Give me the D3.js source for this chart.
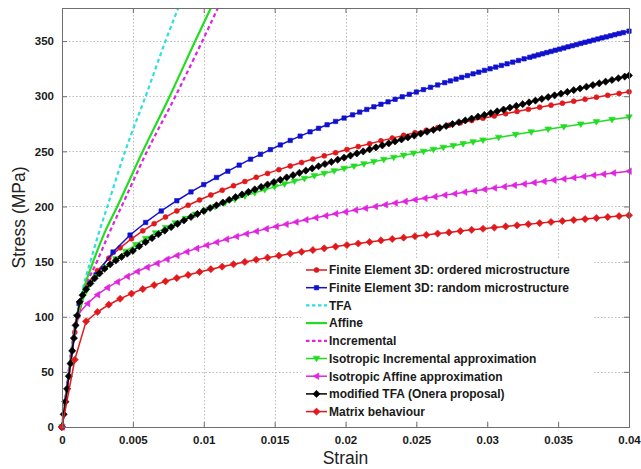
<!DOCTYPE html>
<html>
<head>
<meta charset="utf-8">
<script src="https://cdn.jsdelivr.net/npm/d3@7"></script>
<style>
  body { margin: 0; background: #fff; }
  svg { display: block; }
</style>
</head>
<body>
<svg id="chart" width="641" height="469"></svg>
<script>
// ---- axis ticks ----
const xTickValues = [0, 0.005, 0.01, 0.015, 0.02, 0.025, 0.03, 0.035, 0.04];
const xTickLabels = ["0", "0.005", "0.01", "0.015", "0.02", "0.025", "0.03", "0.035", "0.04"];
const yTickValues = [0, 50, 100, 150, 200, 250, 300, 350];
const yTickLabels = ["0", "50", "100", "150", "200", "250", "300", "350"];

// ---- legend labels ----
const seriesNames = [
  "Finite Element 3D: ordered microstructure",
  "Finite Element 3D: random microstructure",
  "TFA",
  "Affine",
  "Incremental",
  "Isotropic Incremental approximation",
  "Isotropic Affine approximation",
  "modified TFA (Onera proposal)",
  "Matrix behaviour"
];

// ---- strain grid shared by the ordered FE model and the matrix curve ----
const strainStep8 = [0, 0.0009, 0.0017, 0.0025, 0.0033, 0.0041, 0.0049, 0.0057, 0.0065, 0.0073,
  0.0081, 0.0089, 0.0097, 0.0105, 0.0113, 0.0121, 0.0129, 0.0137, 0.0145, 0.0153, 0.0161, 0.0169,
  0.0177, 0.0185, 0.0193, 0.0201, 0.0209, 0.0217, 0.0225, 0.0233, 0.0241, 0.0249, 0.0257, 0.0265,
  0.0273, 0.0281, 0.0289, 0.0297, 0.0305, 0.0313, 0.0321, 0.0329, 0.0337, 0.0345, 0.0353, 0.0361,
  0.0369, 0.0377, 0.0385, 0.0393, 0.04];

// Finite Element 3D: ordered microstructure (MPa)
const stressFeOrdered = [0, 86, 127.6, 141.8, 153.1, 162.5, 170.7, 177.9, 184.4, 190.4, 196.0,
  201.1, 205.9, 210.4, 214.7, 218.8, 222.7, 226.4, 230.0, 233.4, 236.7, 239.9, 243.0, 245.9, 248.8,
  251.6, 254.3, 256.9, 259.5, 262.0, 264.5, 266.8, 269.2, 271.5, 273.7, 275.9, 278.0, 280.1, 282.1,
  284.2, 286.2, 288.1, 290.0, 291.9, 293.7, 295.5, 297.3, 299.1, 300.8, 302.5, 304];

// Matrix behaviour (MPa)
const stressMatrix = [0, 61, 95.8, 104.3, 110.9, 116.3, 121.0, 125.1, 128.7, 132.1, 135.1, 137.9,
  140.6, 143.1, 145.4, 147.6, 149.7, 151.7, 153.6, 155.4, 157.2, 158.9, 160.5, 162.0, 163.6, 165.0,
  166.4, 167.8, 169.2, 170.5, 171.7, 173.0, 174.2, 175.4, 176.5, 177.7, 178.8, 179.8, 180.9, 181.9,
  182.9, 183.9, 184.9, 185.9, 186.8, 187.7, 188.6, 189.5, 190.4, 191.3, 192.0];

// Finite Element 3D: random microstructure
const strainFeRandom = [0, 0.0012, 0.0024, 0.0036, 0.0048, 0.0059, 0.0070, 0.0081, 0.0091, 0.0100,
  0.0109, 0.0117, 0.0125, 0.0133, 0.0140, 0.0147, 0.0154, 0.0161, 0.0168, 0.0175, 0.0181, 0.0187,
  0.0193, 0.0199, 0.0205, 0.0210, 0.0215, 0.0220, 0.0225, 0.0230, 0.0235, 0.0240, 0.0245, 0.0250,
  0.0255, 0.0260, 0.0265, 0.0270, 0.0274, 0.0278, 0.0282, 0.0286, 0.0290, 0.0294, 0.0298, 0.0302,
  0.0306, 0.0310, 0.0314, 0.0318, 0.0322, 0.0326, 0.0330, 0.0333, 0.0336, 0.0339, 0.0342, 0.0345,
  0.0348, 0.0351, 0.0354, 0.0357, 0.0360, 0.0363, 0.0366, 0.0369, 0.0372, 0.0375, 0.0378, 0.0381,
  0.0384, 0.0387, 0.0390, 0.0393, 0.0396, 0.0400];
const stressFeRandom = [0, 112, 138, 158.7, 174.1, 185.5, 195.9, 205.2, 213.2, 219.9, 226.3, 232.0,
  237.5, 242.9, 247.3, 251.6, 255.8, 259.9, 263.8, 267.7, 270.9, 274.1, 277.1, 280.2, 283.1, 285.6,
  288.0, 290.4, 292.7, 294.9, 297.2, 299.5, 301.7, 303.8, 306.0, 308.1, 310.2, 312.3, 313.9, 315.5,
  317.1, 318.7, 320.3, 321.8, 323.4, 324.9, 326.4, 327.9, 329.4, 330.9, 332.4, 333.9, 335.3, 336.4,
  337.5, 338.5, 339.6, 340.6, 341.7, 342.7, 343.7, 344.8, 345.8, 346.8, 347.9, 348.9, 349.9, 350.9,
  351.9, 352.9, 353.8, 354.8, 355.8, 356.8, 357.7, 359.0];

// TFA
const strainTfa = [0, 0.00105, 0.0015, 0.002, 0.0026, 0.0032, 0.00445, 0.0059, 0.0073, 0.0082, 0.0092];
const stressTfa = [0, 100, 127, 150, 176, 200, 250, 300, 350, 380, 412];

// Affine
const strainAffine = [0, 0.00105, 0.0016, 0.0022, 0.003, 0.0039, 0.0057, 0.0076, 0.0094, 0.0105, 0.0115];
const stressAffine = [0, 100, 128, 150, 176, 200, 250, 300, 350, 380, 407];

// Incremental
const strainIncremental = [0, 0.00105, 0.0017, 0.0025, 0.0033, 0.0042, 0.006, 0.008, 0.0099, 0.011, 0.012];
const stressIncremental = [0, 100, 128, 151, 175, 200, 250, 300, 350, 380, 407];

// Isotropic Incremental approximation
const strainIsoIncremental = [0, 0.00105, 0.0017, 0.0024, 0.0031, 0.0038, 0.0045, 0.0052, 0.0059,
  0.0066, 0.0073, 0.0080, 0.0087, 0.0094, 0.0101, 0.0108, 0.0115, 0.0122, 0.0129, 0.0136, 0.0143,
  0.0150, 0.0157, 0.0164, 0.0171, 0.0178, 0.0185, 0.0192, 0.0199, 0.0206, 0.0213, 0.0220, 0.0227,
  0.0234, 0.0241, 0.0248, 0.0255, 0.0262, 0.0269, 0.0276, 0.0283, 0.0290, 0.0297, 0.0308, 0.0320,
  0.0331, 0.0343, 0.0354, 0.0366, 0.0377, 0.0388, 0.0400];
const stressIsoIncremental = [0, 100, 123, 136, 144.5, 152.4, 159.2, 165.3, 170.8, 175.9, 180.6,
  184.9, 189.0, 192.8, 196.4, 199.9, 203.2, 206.4, 209.4, 212.3, 215.1, 217.8, 220.3, 222.9, 225.3,
  227.7, 229.9, 232.2, 234.4, 236.5, 238.5, 240.6, 242.5, 244.4, 246.3, 248.2, 249.9, 251.7, 253.5,
  255.1, 256.8, 258.5, 260.1, 262.5, 265.2, 267.5, 270.0, 272.2, 274.6, 276.7, 278.8, 281];

// Isotropic Affine approximation
const strainIsoAffine = [0, 0.00105, 0.0018, 0.0025, 0.0032, 0.0039, 0.0046, 0.0053, 0.0060, 0.0067,
  0.0074, 0.0081, 0.0088, 0.0095, 0.0102, 0.0109, 0.0116, 0.0123, 0.0130, 0.0137, 0.0144, 0.0151,
  0.0158, 0.0165, 0.0172, 0.0179, 0.0186, 0.0193, 0.0200, 0.0207, 0.0214, 0.0221, 0.0228, 0.0235,
  0.0242, 0.0249, 0.0256, 0.0263, 0.0270, 0.0277, 0.0284, 0.0291, 0.0298, 0.0305, 0.0312, 0.0319,
  0.0326, 0.0333, 0.0340, 0.0347, 0.0354, 0.0361, 0.0368, 0.0375, 0.0382, 0.0389, 0.0400];
const stressIsoAffine = [0, 101, 112, 120, 126.4, 131.6, 136.6, 141, 144.9, 148.4, 152.2, 155.6,
  158.9, 162.0, 164.9, 167.6, 170.3, 172.8, 175.2, 177.5, 179.7, 181.9, 183.9, 185.9, 187.9, 189.8,
  191.6, 193.4, 195.1, 196.8, 198.4, 200.0, 201.6, 203.1, 204.6, 206.1, 207.5, 208.9, 210.3, 211.6,
  213.0, 214.3, 215.5, 216.8, 218.0, 219.2, 220.4, 221.6, 222.8, 223.9, 225.0, 226.1, 227.2, 228.3,
  229.3, 230.4, 232];

// modified TFA (Onera proposal)
const strainModTfa = [0, 0.00012, 0.00024, 0.00036, 0.00048, 0.0006, 0.00072, 0.00084, 0.00096,
  0.00108, 0.00125, 0.00145, 0.0017, 0.002, 0.0023, 0.00265, 0.003, 0.0034, 0.0038, 0.0042, 0.0046,
  0.005, 0.00545, 0.0059, 0.00635, 0.0068, 0.00725, 0.0077, 0.00815, 0.0086,
  0.0091, 0.00955, 0.0100, 0.01045, 0.0109, 0.01135, 0.0118, 0.01225, 0.0127, 0.01315, 0.0136,
  0.01405, 0.0145, 0.01495, 0.0154, 0.01585, 0.0163, 0.01675, 0.0172, 0.01765, 0.0181, 0.01855,
  0.0190, 0.01945, 0.0199, 0.02035, 0.0208, 0.02125, 0.0217, 0.02215, 0.0226, 0.02305, 0.0235,
  0.02395, 0.0244, 0.02485, 0.0253, 0.02575, 0.0262, 0.02665, 0.0271, 0.02755, 0.0280, 0.02845,
  0.0289, 0.02935, 0.0298, 0.03025, 0.0307, 0.03115, 0.0316, 0.03205, 0.0325, 0.03295, 0.0334,
  0.03385, 0.0343, 0.03475, 0.0352, 0.03565, 0.0361, 0.03655, 0.0370, 0.03745, 0.0379, 0.03835,
  0.0388, 0.03925, 0.0397, 0.0400];
const stressModTfa = [0, 11.5, 23, 34.6, 46.1, 57.6, 69.1, 80.6, 92.2, 101, 113.5, 119.6, 124.9,
  130.2, 134.8, 139.4, 143.5, 147.5, 151.1, 154.3, 157.2, 159.8, 163.9, 167.7, 171.3, 174.8, 178.1,
  181.3, 184.3, 187.3,
  190.5, 193.2, 195.9, 198.6, 201.1, 203.6, 206.1, 208.5, 210.9, 213.2, 215.5, 217.7, 219.9, 222.1,
  224.2, 226.3, 228.4, 230.5, 232.5, 234.5, 236.5, 238.5, 240.4, 242.4, 244.3, 246.2, 248.1, 249.9,
  251.8, 253.6, 255.4, 257.2, 259.0, 260.8, 262.6, 264.3, 266.1, 267.8, 269.5, 271.3, 273.0, 274.7,
  276.4, 278.0, 279.7, 281.4, 283.0, 284.7, 286.3, 287.9, 289.6, 291.2, 292.8, 294.4, 296.0, 297.6,
  299.2, 300.8, 302.3, 303.9, 305.5, 307.0, 308.6, 310.1, 311.7, 313.2, 314.7, 316.3, 317.8, 318.8];

// ---- layout ----
const svg = d3.select("#chart");
const W = 641, H = 469;
const margin = { left: 62, right: 12, top: 8, bottom: 42 };
const plotW = W - margin.left - margin.right;
const plotH = H - margin.top - margin.bottom;

const x = d3.scaleLinear().domain([0, 0.04]).range([margin.left, margin.left + plotW]);
const y = d3.scaleLinear().domain([0, 380]).range([margin.top + plotH, margin.top]);

const FONT = "'Liberation Sans', Arial, Helvetica, sans-serif";

// marker shapes (path strings centred on 0,0)
const markerPaths = {
  circle: r => d3.symbol(d3.symbolCircle, Math.PI * r * r)(),
  square: r => `M${-r},${-r}H${r}V${r}H${-r}Z`,
  diamond: r => `M0,${-r}L${r},0L0,${r}L${-r},0Z`,
  triDown: r => `M${-r},${-r * 0.7}L${r},${-r * 0.7}L0,${r}Z`,
  triLeft: r => `M${-r},0L${r * 0.7},${-r}L${r * 0.7},${r}Z`
};

const RED = "#e2191c", BLUE = "#1010d0", CYAN = "#30dede", GREEN = "#22dd22",
      MAGENTA = "#e024e0", BLACK = "#000000";

const series = [
  { name: seriesNames[0], xs: strainStep8, ys: stressFeOrdered, color: RED, width: 1.5, marker: "circle", r: 2.5 },
  { name: seriesNames[1], xs: strainFeRandom, ys: stressFeRandom, color: BLUE, width: 1.5, marker: "square", r: 2.2 },
  { name: seriesNames[2], xs: strainTfa, ys: stressTfa, color: CYAN, width: 2.2, dash: "4,3", smooth: true },
  { name: seriesNames[3], xs: strainAffine, ys: stressAffine, color: GREEN, width: 2.2, smooth: true },
  { name: seriesNames[4], xs: strainIncremental, ys: stressIncremental, color: MAGENTA, width: 2.2, dash: "4,3", smooth: true },
  { name: seriesNames[5], xs: strainIsoIncremental, ys: stressIsoIncremental, color: GREEN, width: 1.5, marker: "triDown", r: 3.3 },
  { name: seriesNames[6], xs: strainIsoAffine, ys: stressIsoAffine, color: MAGENTA, width: 1.5, marker: "triLeft", r: 3.3 },
  { name: seriesNames[7], xs: strainModTfa, ys: stressModTfa, color: BLACK, width: 1.5, marker: "diamond", r: 3.6 },
  { name: seriesNames[8], xs: strainStep8, ys: stressMatrix, color: RED, width: 1.5, marker: "diamond", r: 3.6 }
];

// ---- grid ----
const grid = svg.append("g").attr("stroke", "#bdbdbd").attr("stroke-width", 1)
  .attr("stroke-dasharray", "1.5,2");
grid.selectAll("line.gx").data(xTickValues.slice(1, -1)).join("line")
  .attr("x1", d => Math.round(x(d)) + 0.5).attr("x2", d => Math.round(x(d)) + 0.5)
  .attr("y1", y(380)).attr("y2", y(0));
grid.selectAll("line.gy").data(yTickValues.slice(1)).join("line")
  .attr("x1", x(0)).attr("x2", x(0.04))
  .attr("y1", d => Math.round(y(d)) + 0.5).attr("y2", d => Math.round(y(d)) + 0.5);

// ---- curves ----
svg.append("defs").append("clipPath").attr("id", "plotClip")
  .append("rect").attr("x", x(0) - 4).attr("y", y(380))
  .attr("width", x(0.04) - x(0) + 8).attr("height", y(0) - y(380) + 4);

const curves = svg.append("g").attr("clip-path", "url(#plotClip)");
series.forEach(s => {
  const pts = s.xs.map((v, i) => [v, s.ys[i]]);
  const line = d3.line().x(d => x(d[0])).y(d => y(d[1]))
    .curve(s.smooth ? d3.curveMonotoneX : d3.curveLinear);
  curves.append("path").datum(pts)
    .attr("d", line).attr("fill", "none")
    .attr("stroke", s.color).attr("stroke-width", s.width)
    .attr("stroke-dasharray", s.dash || null)
    .attr("stroke-linejoin", "round");
  if (s.marker) {
    const shape = markerPaths[s.marker](s.r);
    curves.append("g").selectAll("path").data(pts).join("path")
      .attr("d", shape)
      .attr("transform", d => `translate(${x(d[0])},${y(d[1])})`)
      .attr("fill", s.color).attr("stroke", s.color).attr("stroke-width", 0.6);
  }
});

// ---- axes box and inward ticks ----
const axisColor = "#6e6e6e";
const xAxis = d3.axisBottom(x).tickValues(xTickValues)
  .tickFormat((d, i) => xTickLabels[i]).tickSize(-5).tickPadding(9);
const gx = svg.append("g").attr("transform", `translate(0,${y(0)})`).call(xAxis);
const yAxis = d3.axisLeft(y).tickValues(yTickValues)
  .tickFormat((d, i) => yTickLabels[i]).tickSize(-5).tickPadding(8);
const gy = svg.append("g").attr("transform", `translate(${x(0)},0)`).call(yAxis);
const gxTop = svg.append("g").attr("transform", `translate(0,${y(380)})`)
  .call(d3.axisTop(x).tickValues(xTickValues).tickFormat("").tickSize(-5));
const gyRight = svg.append("g").attr("transform", `translate(${x(0.04)},0)`)
  .call(d3.axisRight(y).tickValues(yTickValues).tickFormat("").tickSize(-5));

[gx, gy, gxTop, gyRight].forEach(g => {
  g.select(".domain").remove();
  g.selectAll(".tick line").attr("stroke", axisColor);
  g.selectAll(".tick text")
    .attr("font-family", FONT).attr("font-size", 11.5).attr("font-weight", "bold")
    .attr("fill", "#1a1a1a");
});

svg.append("rect")
  .attr("x", x(0) + 0.5).attr("y", y(380) + 0.5)
  .attr("width", x(0.04) - x(0)).attr("height", y(0) - y(380))
  .attr("fill", "none").attr("stroke", axisColor).attr("stroke-width", 1);

// ---- axis titles ----
svg.append("text")
  .attr("x", x(0.02)).attr("y", 464)
  .attr("text-anchor", "middle")
  .attr("font-family", FONT).attr("font-size", 17.5).attr("fill", "#222")
  .text("Strain");
svg.append("text")
  .attr("transform", `translate(25,${y(190)}) rotate(-90)`)
  .attr("text-anchor", "middle")
  .attr("font-family", FONT).attr("font-size", 17.5).attr("fill", "#222")
  .text("Stress (MPa)");

// ---- legend ----
const legend = svg.append("g");
const legX = 301, legY = 260, rowH = 17.7;
legend.append("rect")
  .attr("x", legX).attr("y", legY)
  .attr("width", 292).attr("height", rowH * series.length + 2)
  .attr("fill", "#fff");
series.forEach((s, i) => {
  const cy = legY + 10 + i * rowH;
  const row = legend.append("g");
  row.append("line")
    .attr("x1", legX + 5).attr("x2", legX + 26)
    .attr("y1", cy).attr("y2", cy)
    .attr("stroke", s.color).attr("stroke-width", s.marker ? 1.5 : 2.2)
    .attr("stroke-dasharray", s.dash ? "3.5,2.5" : null);
  if (s.marker) {
    row.append("path").attr("d", markerPaths[s.marker](s.r))
      .attr("transform", `translate(${legX + 15.5},${cy})`)
      .attr("fill", s.color).attr("stroke", s.color).attr("stroke-width", 0.6);
  }
  row.append("text")
    .attr("x", legX + 28).attr("y", cy).attr("dy", "0.36em")
    .attr("font-family", FONT).attr("font-size", 12).attr("font-weight", "bold")
    .attr("fill", "#1a1a1a")
    .text(s.name);
});
</script>
</body>
</html>
